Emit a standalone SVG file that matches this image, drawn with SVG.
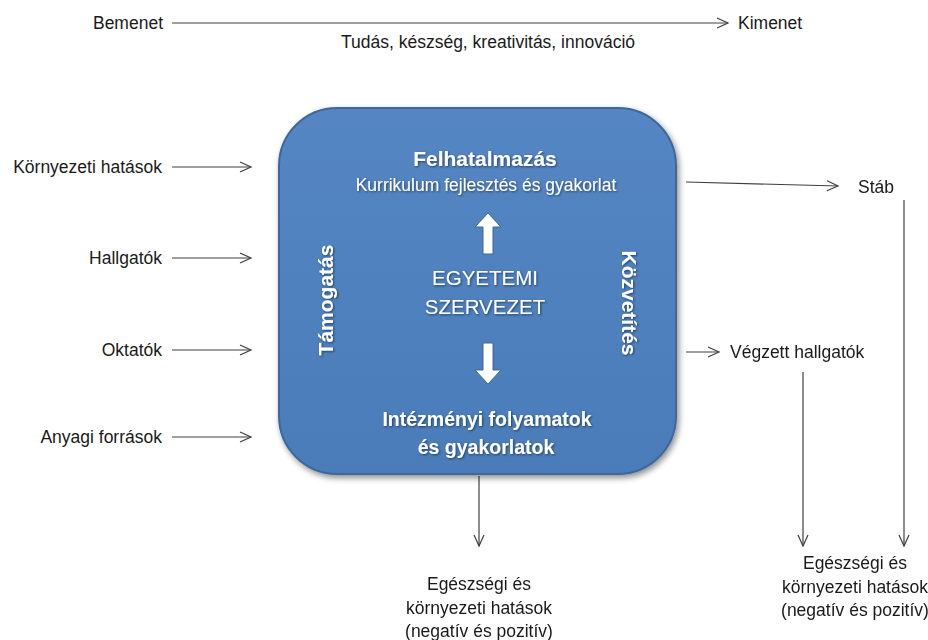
<svg xmlns="http://www.w3.org/2000/svg" width="928" height="640" viewBox="0 0 928 640">
<style>
.t{font-family:"Liberation Sans","Open Sans",Arial,sans-serif;font-size:17.5px;fill:#1a1a1a}
.w{font-family:"Liberation Sans","Open Sans",Arial,sans-serif;fill:#ffffff}
.b{font-weight:bold}
.c{stroke:#404040;stroke-width:1.2;fill:none;marker-end:url(#ah)}
</style>
<defs>
<marker id="ah" markerWidth="14" markerHeight="12" refX="12" refY="6" orient="auto" markerUnits="userSpaceOnUse">
<polyline points="1,1 12,6 1,11" fill="none" stroke="#404040" stroke-width="1.2"/>
</marker>
<filter id="sh" x="-10%" y="-10%" width="125%" height="125%">
<feGaussianBlur in="SourceAlpha" stdDeviation="3"/>
<feOffset dx="2" dy="3"/>
<feComponentTransfer><feFuncA type="linear" slope="0.45"/></feComponentTransfer>
<feMerge><feMergeNode/><feMergeNode in="SourceGraphic"/></feMerge>
</filter>
<filter id="ts" x="-10%" y="-30%" width="120%" height="160%">
<feGaussianBlur in="SourceAlpha" stdDeviation="1"/>
<feOffset dx="1" dy="1"/>
<feComponentTransfer><feFuncA type="linear" slope="0.5"/></feComponentTransfer>
<feMerge><feMergeNode/><feMergeNode in="SourceGraphic"/></feMerge>
</filter>
<linearGradient id="bg" x1="0" y1="0" x2="0" y2="1">
<stop offset="0" stop-color="#5486c3"/>
<stop offset="1" stop-color="#4a7cb9"/>
</linearGradient>
</defs>

<g id="connectors">
<line class="c" x1="172" y1="23" x2="728" y2="23"/>
<line class="c" x1="172" y1="167" x2="251" y2="167"/>
<line class="c" x1="172" y1="258" x2="251" y2="258"/>
<line class="c" x1="172" y1="350" x2="251" y2="350"/>
<line class="c" x1="172" y1="437" x2="251" y2="437"/>
<line class="c" x1="686" y1="182" x2="838" y2="186"/>
<line class="c" x1="686" y1="352" x2="719" y2="352"/>
<line class="c" x1="904" y1="200" x2="904" y2="546"/>
<line class="c" x1="803" y1="372" x2="803" y2="546"/>
<line class="c" x1="479" y1="476" x2="479" y2="546"/>
</g>

<g id="top-labels">
<text class="t" x="163" y="29" text-anchor="end">Bemenet</text>
<text class="t" x="738" y="29">Kimenet</text>
<text class="t" x="488" y="48" text-anchor="middle">Tudás, készség, kreativitás, innováció</text>
</g>

<g id="inputs">
<text class="t" x="162" y="173" text-anchor="end">Környezeti hatások</text>
<text class="t" x="162" y="264" text-anchor="end">Hallgatók</text>
<text class="t" x="162" y="356" text-anchor="end">Oktatók</text>
<text class="t" x="162" y="443" text-anchor="end">Anyagi források</text>
</g>

<g id="university">
<rect x="279" y="108" width="397" height="366" rx="58" ry="58" fill="url(#bg)" stroke="#3c679c" stroke-width="2" filter="url(#sh)"/>
<g filter="url(#ts)">
<text class="w b" x="485" y="166" text-anchor="middle" font-size="21">Felhatalmazás</text>
<text class="w" x="486" y="191" text-anchor="middle" font-size="17.5">Kurrikulum fejlesztés és gyakorlat</text>
<text class="w" x="485" y="285" text-anchor="middle" font-size="20.5">EGYETEMI</text>
<text class="w" x="485" y="314" text-anchor="middle" font-size="20.5">SZERVEZET</text>
<text class="w b" transform="translate(333,300) rotate(-90)" text-anchor="middle" font-size="21">Támogatás</text>
<text class="w b" transform="translate(622,303) rotate(90)" text-anchor="middle" font-size="21">Közvetítés</text>
<text class="w b" x="487" y="426" text-anchor="middle" font-size="19.5">Intézményi folyamatok</text>
<text class="w b" x="486" y="454" text-anchor="middle" font-size="19.5">és gyakorlatok</text>
</g>
<polygon points="488,213 501,227 493,227 493,254 483,254 483,227 475,227" fill="#ffffff" stroke="#3c679c" stroke-width="1"/>
<polygon points="488,384 501,370 493,370 493,343 483,343 483,370 475,370" fill="#ffffff" stroke="#3c679c" stroke-width="1"/>
</g>

<g id="outputs">
<text class="t" x="858" y="193">Stáb</text>
<text class="t" x="730" y="358">Végzett hallgatók</text>
</g>

<g id="impact-center">
<text class="t" x="479" y="590" text-anchor="middle">Egészségi és</text>
<text class="t" x="479" y="614" text-anchor="middle">környezeti hatások</text>
<text class="t" x="479" y="637" text-anchor="middle">(negatív és pozitív)</text>
</g>
<g id="impact-right">
<text class="t" x="855" y="569" text-anchor="middle">Egészségi és</text>
<text class="t" x="855" y="593" text-anchor="middle">környezeti hatások</text>
<text class="t" x="855" y="616" text-anchor="middle">(negatív és pozitív)</text>
</g>
</svg>
